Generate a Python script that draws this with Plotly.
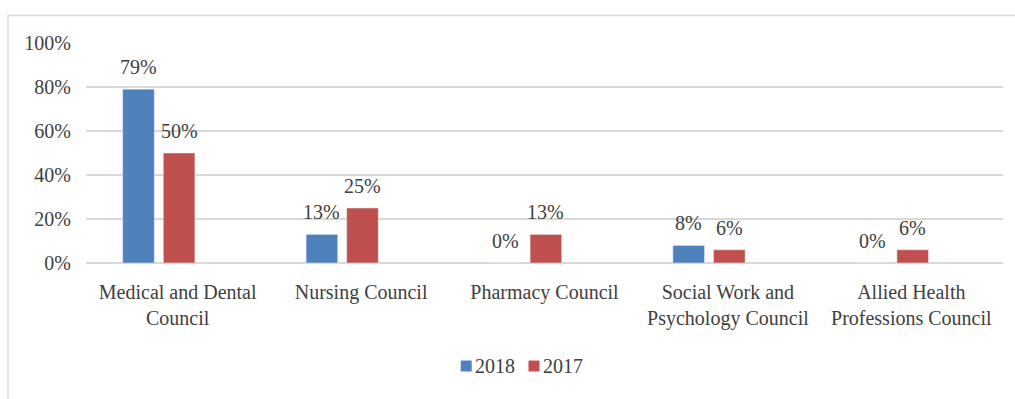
import plotly.graph_objects as go

categories = ["Medical and Dental<br>Council", "Nursing Council", "Pharmacy Council",
              "Social Work and<br>Psychology Council", "Allied Health<br>Professions Council"]
series_names = ["2018", "2017"]
values_2018 = [0.79, 0.13, 0.00, 0.08, 0.00]
values_2017 = [0.50, 0.25, 0.13, 0.06, 0.06]
labels_2018 = ["79%", "13%", "0%", "8%", "0%"]
labels_2017 = ["50%", "25%", "13%", "6%", "6%"]
y_ticks = [0, 0.2, 0.4, 0.6, 0.8, 1.0]
y_tick_text = ["0%", "20%", "40%", "60%", "80%", "100%"]

BLUE = "#4F81BD"
RED = "#C0504D"
TXT = "#404040"
FONT = "Liberation Serif"

W, H = 1015, 399
ML, MR, MT, MB = 86, 12, 42.5, 135.5
plot_w = W - ML - MR
plot_h = H - MT - MB
cat_px = plot_w / len(categories)


def px_x(px):
    return (px - ML) / plot_w


def px_y(py):
    return (H - MB - py) / plot_h


bar_w = 31.6 / cat_px
off_blue = -55.0 / cat_px
off_red = -14.4 / cat_px

fig = go.Figure()
fig.add_trace(go.Bar(name=series_names[0], x=categories, y=values_2018,
                     marker_color=BLUE, width=bar_w, offset=off_blue, showlegend=False))
fig.add_trace(go.Bar(name=series_names[1], x=categories, y=values_2017,
                     marker_color=RED, width=bar_w, offset=off_red, showlegend=False))

for vals, labs, off in ((values_2018, labels_2018, off_blue), (values_2017, labels_2017, off_red)):
    for c, v, t in zip(categories, vals, labs):
        fig.add_annotation(x=c, y=v, text=t, showarrow=False,
                           xshift=(off + bar_w / 2) * cat_px, yshift=22,
                           yanchor="middle", xanchor="center",
                           font=dict(family=FONT, size=20, color=TXT))

# legend (square swatch + label), drawn to match the original's compact spacing
legend_items = [(series_names[0], BLUE, 460.7), (series_names[1], RED, 528.5)]
for name, col, sx in legend_items:
    fig.add_shape(type="rect", xref="paper", yref="paper",
                  x0=px_x(sx), x1=px_x(sx + 11), y0=px_y(372.5), y1=px_y(361.5),
                  line=dict(width=0), fillcolor=col)
    fig.add_annotation(xref="paper", yref="paper", x=px_x(sx + 12), y=px_y(366.5),
                       text=name, showarrow=False, xanchor="left", yanchor="middle",
                       font=dict(family=FONT, size=20, color=TXT))

# chart-area border
fig.add_shape(type="rect", xref="paper", yref="paper",
              x0=px_x(8), x1=px_x(W + 20), y0=px_y(H + 20), y1=px_y(15),
              line=dict(color="#D9D9D9", width=1.5), fillcolor="rgba(0,0,0,0)", layer="below")

fig.update_layout(
    width=W, height=H,
    margin=dict(l=ML, r=MR, t=MT, b=MB, pad=0),
    paper_bgcolor="white", plot_bgcolor="white",
    barmode="overlay",
    font=dict(family=FONT, size=20, color=TXT),
    showlegend=False,
)
fig.update_xaxes(type="category", range=[-0.5, len(categories) - 0.5], showgrid=False,
                 showline=False, ticks="", zeroline=False, ticklabelstandoff=15,
                 tickfont=dict(family=FONT, size=20, color=TXT))
fig.update_yaxes(range=[0, 1.0], tickvals=y_ticks, ticktext=y_tick_text, showgrid=True,
                 gridcolor="#D9D9D9", gridwidth=1.5, zeroline=True, zerolinecolor="#D9D9D9",
                 zerolinewidth=1.5, showline=False, ticks="", ticklabelstandoff=14,
                 tickfont=dict(family=FONT, size=20, color=TXT))

fig.write_html("out.html")
